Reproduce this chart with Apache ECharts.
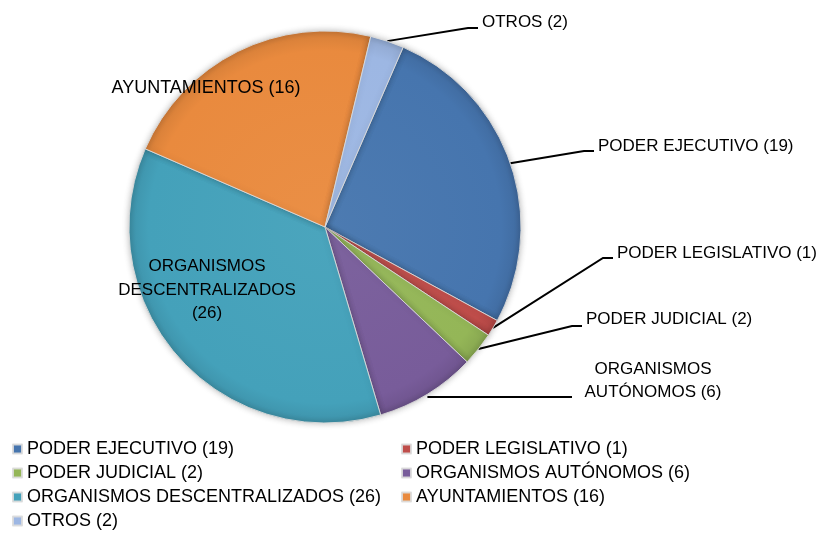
<!DOCTYPE html>
<html>
<head>
<meta charset="utf-8">
<script src="https://cdn.jsdelivr.net/npm/echarts@6/dist/echarts.min.js"></script>
<style>
html,body{margin:0;padding:0;background:#fff;}
#chart{width:828px;height:533px;}
</style>
</head>
<body>
<div id="chart"></div>
<script>
// ---- data ----
const categories = ['PODER EJECUTIVO', 'PODER LEGISLATIVO', 'PODER JUDICIAL', 'ORGANISMOS AUTÓNOMOS', 'ORGANISMOS DESCENTRALIZADOS', 'AYUNTAMIENTOS', 'OTROS'];
const values = [19, 1, 2, 6, 26, 16, 2];
const labelTexts = ['PODER EJECUTIVO (19)', 'PODER LEGISLATIVO (1)', 'PODER JUDICIAL (2)', 'ORGANISMOS\nAUTÓNOMOS (6)', 'ORGANISMOS\nDESCENTRALIZADOS\n(26)', 'AYUNTAMIENTOS (16)', 'OTROS (2)'];
const legendCol1 = [0, 2, 4, 6];
const legendCol2 = [1, 3, 5];

// ---- styles ----
const colors = ['#4675AE', '#BF4D4A', '#94B657', '#785C9A', '#44A1BA', '#E98A3E', '#9DB7E3'];
const CX = 325, CY = 227, R = 196;
const FONT = '"Liberation Sans", Arial, sans-serif';

function shade(hex, f) {
  const n = parseInt(hex.slice(1), 16);
  let r = (n >> 16) & 255, g = (n >> 8) & 255, b = n & 255;
  if (f >= 0) { r += (255 - r) * f; g += (255 - g) * f; b += (255 - b) * f; }
  else { r *= 1 + f; g *= 1 + f; b *= 1 + f; }
  return 'rgb(' + Math.round(r) + ',' + Math.round(g) + ',' + Math.round(b) + ')';
}
function grad(c) {
  return {
    type: 'radial', x: CX, y: CY, r: R, global: true,
    colorStops: [
      { offset: 0, color: shade(c, 0.04) },
      { offset: 0.9, color: c },
      { offset: 0.97, color: shade(c, -0.06) },
      { offset: 1, color: shade(c, -0.15) }
    ]
  };
}

const labelPlace = {
  0: { x: 598, y: 146, align: 'left', line: [[584, 151], [594, 151]] },
  1: { x: 617, y: 253, align: 'left', line: [[603, 258], [613, 258]] },
  2: { x: 586, y: 319, align: 'left', line: [[572, 326], [582, 326]] },
  3: { x: 653, y: 381, align: 'center', flat: 397, line: [[572, 397]] },
  4: { x: 207, y: 290, align: 'center' },
  5: { x: 206, y: 88, align: 'center' },
  6: { x: 482, y: 22, align: 'left', line: [[468, 28], [478, 28]] }
};

const seriesData = categories.map((c, i) => ({
  name: labelTexts[i].replace(/\n/g, ' '),
  value: values[i],
  itemStyle: { color: grad(colors[i]) },
  label: { formatter: labelTexts[i], fontSize: (i === 5 ? 18 : 17) },
  labelLine: { show: !(i === 4 || i === 5) }
}));

function legendFor(idx, left) {
  return {
    orient: 'vertical',
    left: left,
    top: 440,
    height: 110,
    padding: 0,
    itemWidth: 9,
    itemHeight: 9,
    itemGap: 6,
    icon: 'rect',
    textStyle: { fontFamily: FONT, fontSize: 18, color: '#000' },
    data: idx.map(i => ({ name: seriesData[i].name, itemStyle: { color: colors[i] } }))
  };
}

const chart = echarts.init(document.getElementById('chart'), null, { renderer: 'canvas' });
chart.setOption({
  backgroundColor: '#fff',
  animation: false,
  legend: [legendFor(legendCol1, 12), legendFor(legendCol2, 401)],
  series: [{
    type: 'pie',
    center: [CX, CY],
    radius: [0, R],
    startAngle: 66.5,
    clockwise: true,
    avoidLabelOverlap: false,
    data: seriesData,
    itemStyle: { borderColor: 'rgba(220,220,220,0.9)', borderWidth: 1, shadowBlur: 6, shadowColor: 'rgba(0,0,0,0.25)' },
    label: {
      show: true, position: 'outside', color: '#000',
      fontFamily: FONT, fontSize: 17, lineHeight: 23.5
    },
    labelLine: { show: true, lineStyle: { color: '#000', width: 2 } },
    labelLayout: function (p) {
      const L = labelPlace[p.dataIndex];
      const out = { x: L.x, y: L.y, align: L.align, verticalAlign: 'middle', hideOverlap: false, moveOverlap: false };
      if (L.line && p.labelLinePoints) {
        const p0 = p.labelLinePoints[0].slice();
        if (L.flat) p0[1] = L.flat;
        out.labelLinePoints = [p0].concat(L.line);
      }
      return out;
    }
  }]
});
</script>
</body>
</html>
